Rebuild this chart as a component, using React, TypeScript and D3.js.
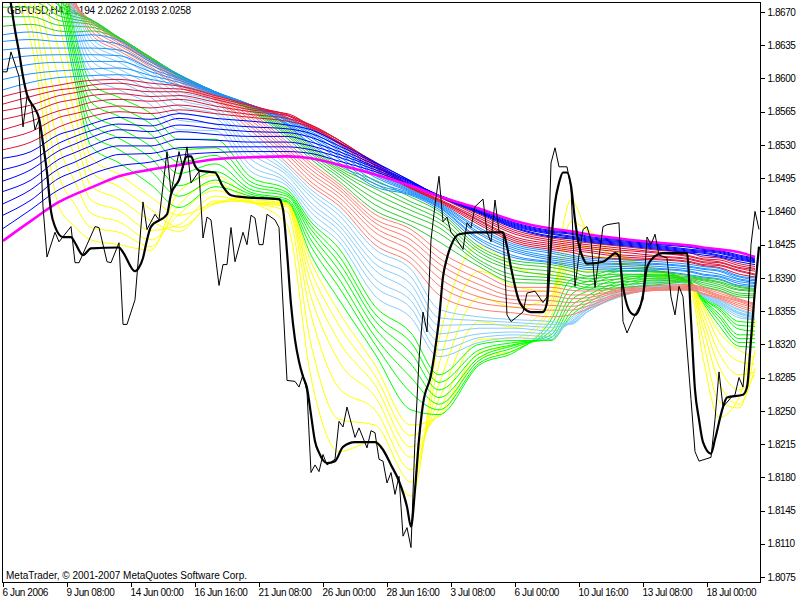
import * as d3 from "d3";
import { useEffect, useRef } from "react";

// prices are kept as 4-digit quotes: 8670 means 1.8670
const priceTicks: number[] = [8670, 8635, 8600, 8565, 8530, 8495, 8460, 8425, 8390, 8355, 8320, 8285, 8250, 8215, 8180, 8145, 8110, 8075];
const timeTickBars: number[] = [0, 16, 32, 48, 64, 80, 96, 112, 128, 144, 160, 176];
const timeLabels: string[] = [
  "6 Jun 2006", "9 Jun 08:00", "14 Jun 00:00", "16 Jun 16:00", "21 Jun 08:00", "26 Jun 00:00",
  "28 Jun 16:00", "3 Jul 08:00", "6 Jul 00:00", "10 Jul 16:00", "13 Jul 08:00", "18 Jul 00:00",
];
const headerText = "GBPUSD,H4 2.0194 2.0262 2.0193 2.0258";
const footerText = "MetaTrader, \u00A9 2001-2007 MetaQuotes Software Corp.";

// close price, thin black line
const priceBars: number[] = [0,1,2,4,5,6,7,8,9,10,11,13,14,17,18,19,21,23,24,26,27,29,30,31,33,35,36,38,39,41,42,44,45,46,47,49,50,51,52,54,55,56,57,58,60,61,62,63,64,65,66,68,69,71,73,74,75,76,77,78,79,80,81,83,84,85,86,88,89,91,92,93,94,95,96,97,98,99,100,101,102,103,104,105,106,107,108,109,110,111,112,113,115,116,117,118,120,121,122,123,124,125,126,127,130,131,133,135,136,137,138,139,141,142,143,144,145,146,147,148,150,151,154,155,156,158,160,161,162,163,164,166,167,168,169,170,172,173,174,177,178,179,180,182,183,184,185,186,187,188,189];
const priceValues: number[] = [8607,8607,8628,8602,8549,8581,8575,8546,8557,8465,8412,8438,8428,8444,8406,8406,8425,8444,8443,8407,8406,8427,8341,8341,8367,8470,8441,8457,8451,8523,8480,8523,8506,8528,8490,8502,8432,8454,8451,8382,8404,8404,8443,8407,8438,8425,8456,8453,8425,8425,8457,8451,8443,8282,8281,8275,8288,8270,8185,8193,8186,8204,8193,8199,8239,8233,8254,8222,8232,8211,8229,8227,8199,8197,8174,8185,8162,8181,8118,8127,8106,8220,8304,8354,8333,8430,8467,8497,8449,8454,8438,8433,8420,8448,8443,8465,8473,8438,8428,8472,8439,8438,8351,8344,8354,8374,8376,8364,8370,8511,8527,8507,8507,8485,8381,8414,8441,8444,8430,8380,8444,8446,8448,8344,8332,8351,8367,8433,8425,8436,8414,8411,8370,8351,8381,8370,8262,8207,8197,8201,8241,8291,8254,8264,8267,8285,8275,8327,8425,8460,8441];

// fast average, thick black line
const fastBars: number[] = [1,2,3,4,5,6,8,9,10,11,12,13,15,17,18,20,22,29,30,33,34,35,36,37,41,42,44,46,47,48,49,53,55,57,60,69,70,71,72,73,74,75,76,77,78,79,81,83,85,88,93,95,97,99,101,102,103,104,105,107,108,109,110,111,112,114,118,125,126,127,129,130,132,135,136,137,138,139,140,141,142,143,144,145,146,150,152,153,154,155,157,158,160,161,163,165,171,172,173,174,175,177,178,180,181,185,186,187,188,189];
const fastValues: number[] = [8709,8678,8651,8628,8602,8583,8568,8558,8532,8501,8460,8444,8433,8433,8427,8414,8421,8422,8417,8397,8401,8411,8430,8444,8457,8478,8493,8518,8518,8508,8503,8501,8486,8477,8475,8473,8462,8417,8362,8325,8302,8286,8274,8246,8218,8206,8195,8197,8212,8217,8217,8209,8193,8176,8149,8128,8167,8220,8257,8288,8314,8346,8391,8411,8424,8436,8438,8438,8423,8401,8366,8359,8354,8354,8364,8425,8469,8490,8501,8501,8487,8451,8424,8411,8405,8407,8413,8416,8413,8381,8353,8351,8372,8401,8413,8416,8416,8346,8272,8241,8217,8205,8220,8254,8264,8267,8275,8325,8378,8423];

const ribbonBars: number[] = [0,7,14,18,22,29,37,44,53,62,71,77,84,93,102,109,119,128,137,142,146,155,164,172,175,179,184,188];

// slowest average
const magentaLine: number[] = [8429,8450,8470,8478,8485,8497,8504,8509,8515,8517,8518,8516,8509,8499,8487,8476,8463,8450,8442,8439,8436,8431,8427,8424,8422,8420,8417,8412];

// each family: one row per ribbon bar, one column per line, slow to fast
const blueRows: number[][] = [
  [8442,8456,8468,8481,8492,8504,8516],[8462,8472,8483,8493,8504,8513,8523],[8483,8495,8505,8515,8524,8532,8541],[8491,8502,8512,8522,8531,8539,8546],
  [8499,8509,8520,8529,8538,8545,8552],[8508,8520,8529,8538,8546,8552,8559],[8512,8521,8529,8537,8544,8550,8557],
  [8519,8527,8536,8544,8551,8558,8563],[8522,8528,8535,8541,8547,8552,8558],[8523,8528,8533,8539,8544,8549,8555],
  [8523,8528,8533,8539,8543,8547,8551],[8521,8525,8529,8533,8538,8542,8546],[8513,8517,8520,8523,8526,8529,8532],
  [8502,8504,8506,8507,8509,8511,8512],[8488,8489,8490,8491,8491,8492,8492],[8477,8477,8477,8477,8476,8476,8476],
  [8462,8461,8460,8460,8459,8459,8458],[8448,8447,8446,8445,8444,8443,8442],[8440,8439,8438,8437,8436,8434,8433],
  [8438,8437,8436,8434,8433,8432,8431],[8434,8433,8432,8431,8430,8429,8428],[8430,8429,8428,8427,8426,8425,8424],
  [8426,8425,8424,8423,8422,8421,8420],[8423,8422,8420,8419,8418,8417,8416],[8421,8420,8419,8418,8417,8416,8414],
  [8419,8418,8417,8416,8414,8413,8412],[8414,8413,8412,8411,8410,8409,8407],[8411,8410,8409,8408,8407,8406,8404],
];
const crimsonRows: number[][] = [
  [8525,8536,8546,8557,8566,8573,8581],[8533,8544,8555,8564,8572,8581,8588],[8549,8559,8566,8575,8582,8588,8593],[8555,8563,8570,8578,8585,8590,8596],
  [8560,8567,8575,8582,8588,8593,8598],[8565,8571,8578,8584,8589,8595,8599],[8563,8569,8576,8581,8586,8590,8595],
  [8567,8572,8578,8582,8586,8589,8592],[8563,8567,8571,8575,8578,8580,8582],[8559,8562,8565,8567,8569,8571,8572],
  [8555,8558,8561,8563,8562,8561,8559],[8549,8551,8551,8550,8549,8548,8547],[8533,8535,8535,8535,8533,8532,8531],
  [8512,8511,8510,8509,8508,8506,8504],[8487,8486,8486,8485,8485,8484,8484],[8475,8475,8473,8472,8472,8471,8470],
  [8457,8455,8453,8451,8450,8448,8446],[8440,8438,8436,8433,8431,8429,8427],[8432,8430,8428,8426,8424,8422,8420],
  [8429,8427,8425,8423,8421,8419,8417],[8427,8425,8423,8421,8419,8417,8413],[8423,8421,8419,8417,8414,8412,8410],
  [8419,8417,8416,8413,8412,8410,8409],[8416,8413,8412,8410,8409,8407,8406],[8412,8410,8409,8407,8406,8404,8403],
  [8411,8409,8407,8406,8404,8403,8401],[8405,8403,8401,8400,8398,8397,8394],[8402,8400,8399,8397,8394,8393,8391],
];
const dodgerRows: number[][] = [
  [8588,8599,8609,8620,8630,8639,8646],[8596,8605,8615,8624,8632,8641,8649],[8601,8608,8617,8625,8632,8639,8645],[8602,8609,8617,8625,8632,8639,8645],
  [8603,8610,8618,8625,8632,8640,8646],[8604,8611,8618,8624,8630,8636,8640],[8599,8603,8607,8610,8614,8617,8619],
  [8593,8596,8598,8600,8601,8603,8604],[8583,8584,8585,8585,8586,8586,8586],[8572,8572,8572,8572,8572,8572,8571],
  [8558,8557,8556,8555,8553,8552,8551],[8546,8544,8542,8540,8538,8535,8531],[8529,8527,8524,8521,8518,8515,8511],
  [8502,8500,8498,8496,8492,8489,8486],[8483,8482,8481,8480,8479,8478,8477],[8469,8468,8467,8466,8465,8464,8462],
  [8443,8441,8438,8436,8432,8430,8427],[8425,8423,8421,8419,8417,8413,8411],[8418,8416,8413,8411,8409,8407,8406],
  [8414,8412,8410,8408,8406,8404,8402],[8411,8409,8407,8405,8403,8401,8399],[8409,8407,8405,8404,8402,8400,8398],
  [8407,8405,8404,8402,8400,8399,8397],[8404,8402,8401,8399,8397,8396,8393],[8402,8400,8399,8397,8394,8393,8391],
  [8400,8398,8397,8394,8392,8391,8389],[8392,8391,8389,8388,8386,8384,8382],[8390,8388,8387,8385,8384,8382,8381],
];
const limeSlowRows: number[][] = [
  [8655,8665,8675,8685,8696,8706,8717],[8657,8665,8675,8683,8691,8699,8706],[8650,8656,8661,8666,8671,8677,8681],[8649,8655,8659,8662,8665,8668,8670],
  [8650,8654,8657,8659,8661,8662,8662],[8642,8643,8643,8643,8643,8643,8642],[8620,8621,8622,8622,8622,8622,8621],
  [8604,8604,8604,8604,8603,8603,8602],[8586,8586,8586,8586,8585,8585,8585],[8571,8570,8570,8569,8568,8567,8566],
  [8550,8548,8546,8544,8542,8540,8537],[8529,8527,8525,8523,8521,8518,8515],[8508,8506,8504,8502,8499,8496,8492],
  [8493,8489,8484,8479,8473,8467,8461],[8475,8470,8466,8461,8456,8450,8445],[8460,8457,8452,8448,8443,8437,8428],
  [8423,8420,8417,8413,8409,8406,8402],[8408,8405,8401,8398,8393,8389,8385],[8404,8401,8397,8393,8390,8387,8384],
  [8400,8397,8393,8390,8387,8384,8381],[8396,8392,8389,8386,8383,8380,8378],[8397,8394,8392,8389,8386,8383,8380],
  [8396,8393,8391,8389,8387,8385,8383],[8392,8391,8390,8389,8388,8387,8386],[8390,8389,8388,8387,8385,8383,8381],
  [8388,8386,8385,8383,8381,8379,8377],[8381,8380,8378,8377,8374,8372,8370],[8379,8378,8377,8376,8373,8371,8369],
];
const salmonRows: number[][] = [
  [8727,8732,8738,8743,8748,8752,8757],[8712,8718,8723,8727,8731,8736,8739],[8686,8691,8698,8704,8711,8719,8725],[8672,8675,8677,8678,8680,8681,8681],
  [8662,8661,8660,8658,8655,8651,8647],[8641,8640,8639,8637,8635,8632,8629],[8620,8619,8618,8617,8615,8612,8610],
  [8601,8600,8599,8598,8596,8593,8591],[8584,8583,8582,8581,8580,8579,8577],[8564,8562,8559,8556,8552,8549,8545],
  [8533,8530,8526,8523,8520,8516,8511],[8511,8508,8504,8500,8496,8491,8487],[8489,8486,8483,8479,8475,8470,8466],
  [8457,8452,8448,8443,8438,8431,8425],[8441,8436,8430,8424,8418,8411,8405],[8418,8411,8405,8398,8390,8382,8372],
  [8396,8389,8383,8377,8370,8364,8357],[8380,8376,8371,8367,8363,8359,8353],[8380,8376,8371,8366,8361,8356,8349],
  [8377,8372,8368,8364,8360,8356,8351],[8376,8372,8369,8366,8363,8360,8357],[8379,8378,8377,8376,8374,8373,8372],
  [8382,8380,8379,8378,8377,8377,8377],[8383,8382,8381,8380,8379,8378,8377],[8380,8379,8378,8377,8376,8374,8373],
  [8376,8374,8372,8371,8370,8369,8368],[8368,8367,8366,8365,8363,8361,8359],[8363,8362,8361,8359,8358,8356,8354],
];
const skyRows: number[][] = [
  [8761,8765,8768,8771,8774,8776,8778],[8741,8743,8744,8745,8746,8746,8746],[8731,8736,8740,8742,8742,8740,8736],[8680,8677,8672,8668,8663,8657,8650],
  [8643,8638,8632,8626,8619,8611,8603],[8626,8622,8617,8610,8604,8597,8588],[8607,8603,8598,8592,8586,8580,8572],
  [8587,8583,8578,8571,8564,8556,8546],[8575,8571,8567,8563,8558,8552,8545],[8540,8533,8527,8521,8515,8508,8502],
  [8508,8504,8501,8498,8493,8490,8487],[8483,8479,8475,8469,8464,8459,8453],[8461,8456,8450,8445,8440,8434,8428],
  [8420,8412,8405,8398,8389,8381,8371],[8399,8391,8383,8374,8366,8358,8348],[8357,8348,8340,8331,8323,8314,8307],
  [8349,8345,8341,8337,8331,8327,8322],[8346,8343,8340,8337,8333,8330,8327],[8344,8341,8338,8334,8331,8328,8325],
  [8341,8342,8342,8343,8344,8346,8348],[8354,8354,8354,8356,8357,8358,8360],[8371,8372,8373,8374,8376,8377,8379],
  [8378,8379,8380,8381,8382,8384,8386],[8377,8378,8379,8380,8381,8382,8383],[8373,8372,8372,8371,8371,8371,8370],
  [8367,8366,8365,8364,8363,8362,8361],[8357,8356,8354,8353,8352,8350,8348],[8352,8351,8350,8349,8348,8347,8346],
];
const limeFastRows: number[][] = [
  [8779,8780,8780,8780,8779,8778,8776],[8746,8744,8742,8739,8735,8730,8725],[8729,8721,8712,8704,8696,8687,8677],[8648,8641,8632,8625,8617,8607,8597],
  [8595,8585,8575,8564,8553,8542,8529],[8580,8570,8560,8548,8537,8525,8511],[8563,8552,8541,8528,8516,8502,8488],
  [8536,8525,8512,8500,8487,8476,8464],[8536,8527,8519,8510,8502,8493,8486],[8496,8491,8487,8483,8480,8478,8476],
  [8483,8480,8478,8476,8473,8471,8470],[8449,8445,8441,8436,8430,8423,8414],[8421,8413,8406,8398,8389,8380,8367],
  [8360,8352,8345,8337,8328,8320,8310],[8332,8322,8311,8299,8285,8269,8251],[8288,8280,8272,8264,8257,8251,8246],
  [8320,8314,8310,8306,8303,8300,8298],[8324,8322,8320,8319,8317,8314,8312],[8324,8325,8327,8330,8334,8340,8346],
  [8350,8354,8360,8366,8372,8380,8388],[8363,8367,8371,8376,8381,8386,8391],[8381,8384,8387,8390,8393,8397,8400],
  [8388,8390,8392,8393,8394,8396,8397],[8384,8385,8385,8385,8385,8384,8384],[8370,8369,8369,8368,8367,8366,8364],
  [8360,8358,8356,8352,8349,8345,8340],[8344,8340,8336,8330,8326,8322,8318],[8343,8339,8334,8330,8326,8322,8317],
];
const yellowRows: number[][] = [
  [8770,8762,8752,8742,8732,8722,8710],[8719,8712,8704,8691,8675,8657,8638],[8657,8630,8599,8565,8528,8497,8465],[8583,8562,8541,8517,8491,8467,8444],
  [8517,8502,8487,8472,8458,8443,8430],[8499,8486,8473,8461,8449,8438,8425],[8475,8462,8450,8440,8430,8423,8419],
  [8456,8443,8439,8446,8457,8467,8481],[8469,8468,8471,8476,8482,8490,8498],[8475,8472,8470,8469,8469,8470,8471],
  [8469,8468,8468,8467,8465,8460,8446],[8407,8397,8385,8370,8351,8320,8285],[8354,8340,8323,8302,8274,8241,8207],
  [8298,8287,8277,8265,8251,8235,8218],[8235,8224,8212,8201,8188,8175,8160],[8244,8246,8251,8262,8278,8299,8325],
  [8306,8311,8325,8344,8369,8397,8424],[8314,8320,8327,8338,8359,8381,8401],[8350,8357,8362,8367,8371,8376,8393],
  [8397,8404,8412,8422,8434,8449,8472],[8397,8404,8413,8422,8430,8441,8439],[8403,8406,8409,8411,8413,8413,8407],
  [8399,8399,8398,8397,8396,8393,8390],[8384,8383,8383,8382,8381,8379,8374],[8362,8359,8353,8346,8338,8325,8306],
  [8333,8323,8311,8297,8280,8260,8243],[8314,8302,8288,8272,8257,8253,8264],[8306,8299,8291,8288,8295,8314,8346],
];

// drawn back to front
const families: { rows: number[][]; color: string }[] = [
  { rows: yellowRows, color: "#FFFF00" },
  { rows: limeFastRows, color: "#00FF00" },
  { rows: skyRows, color: "#87CEFA" },
  { rows: salmonRows, color: "#FA8072" },
  { rows: limeSlowRows, color: "#32CD32" },
  { rows: dodgerRows, color: "#1E90FF" },
  { rows: crimsonRows, color: "#DC143C" },
  { rows: blueRows, color: "#0000FF" },
];

const width = 800;
const height = 600;
const marginLeft = 3;
const plotRight = 760;
const plotTop = 2;
const plotBottom = 582;
const font = "'Liberation Sans', sans-serif";

export default function App() {
  const svgRef = useRef<SVGSVGElement>(null);

  useEffect(() => {
    const svg = d3.select(svgRef.current);
    svg.selectAll("*").remove();

    const x = d3.scaleLinear().domain([0, 189]).range([marginLeft, 759]);
    const y = d3.scaleLinear().domain([8075, 8670]).range([577, 12]);

    svg.append("rect").attr("width", width).attr("height", height).attr("fill", "#fff");

    svg.append("defs").append("clipPath").attr("id", "plot")
      .append("rect").attr("x", marginLeft).attr("y", plotTop)
      .attr("width", plotRight - marginLeft).attr("height", plotBottom - plotTop);

    // header sits under the lines
    svg.append("text").text(headerText).attr("x", 7).attr("y", 14)
      .attr("font-family", font).attr("font-size", 10).attr("letter-spacing", -0.2).attr("fill", "#000");

    const plot = svg.append("g").attr("clip-path", "url(#plot)");

    const smooth = d3.line<number>()
      .x((_, i) => x(ribbonBars[i]))
      .y((d) => y(d))
      .curve(d3.curveMonotoneX);

    families.forEach((family) => {
      plot.append("g").selectAll("path")
        .data(d3.transpose<number>(family.rows).reverse())
        .join("path")
        .attr("d", (d) => smooth(d))
        .attr("fill", "none")
        .attr("stroke", family.color)
        .attr("stroke-width", 1);
    });

    plot.append("path").attr("d", smooth(magentaLine))
      .attr("fill", "none").attr("stroke", "#FF00FF").attr("stroke-width", 2.6);

    const straight = (bars: number[]) =>
      d3.line<number>().x((_, i) => x(bars[i])).y((d) => y(d));

    plot.append("path").attr("d", straight(priceBars)(priceValues))
      .attr("fill", "none").attr("stroke", "#000").attr("stroke-width", 1);
    plot.append("path").attr("d", straight(fastBars).curve(d3.curveMonotoneX)(fastValues))
      .attr("fill", "none").attr("stroke", "#000").attr("stroke-width", 2.2);

    svg.append("text").text(footerText).attr("x", 6).attr("y", 579)
      .attr("font-family", font).attr("font-size", 10).attr("fill", "#000");

    // frame
    svg.append("rect").attr("x", 2.5).attr("y", 2.5)
      .attr("width", plotRight - 2).attr("height", plotBottom - 2)
      .attr("fill", "none").attr("stroke", "#000").attr("stroke-width", 1)
      .attr("shape-rendering", "crispEdges");

    const priceAxis = svg.append("g").attr("transform", `translate(${plotRight + 0.5},0)`)
      .call(d3.axisRight(y).tickValues(priceTicks).tickSize(4).tickSizeOuter(0).tickPadding(3)
        .tickFormat((d) => (1 + Number(d) / 10000).toFixed(4)));
    priceAxis.select(".domain").remove();
    priceAxis.selectAll("text").attr("font-family", font).attr("font-size", 10).attr("letter-spacing", -0.45).attr("fill", "#000");
    priceAxis.selectAll("line").attr("stroke", "#000").attr("shape-rendering", "crispEdges");

    const timeAxis = svg.append("g").attr("transform", `translate(0,${plotBottom + 0.5})`)
      .call(d3.axisBottom(x).tickValues(timeTickBars).tickSize(4).tickSizeOuter(0).tickPadding(2)
        .tickFormat((_, i) => timeLabels[i]));
    timeAxis.select(".domain").remove();
    timeAxis.selectAll("text").attr("font-family", font).attr("font-size", 10).attr("letter-spacing", -0.4)
      .attr("text-anchor", "start").attr("dx", -1).attr("fill", "#000");
    timeAxis.selectAll("line").attr("stroke", "#000").attr("shape-rendering", "crispEdges");
  }, []);

  return (
    <svg
      ref={svgRef}
      width={width}
      height={height}
      style={{ position: "absolute", left: 0, top: 0, display: "block" }}
    />
  );
}
